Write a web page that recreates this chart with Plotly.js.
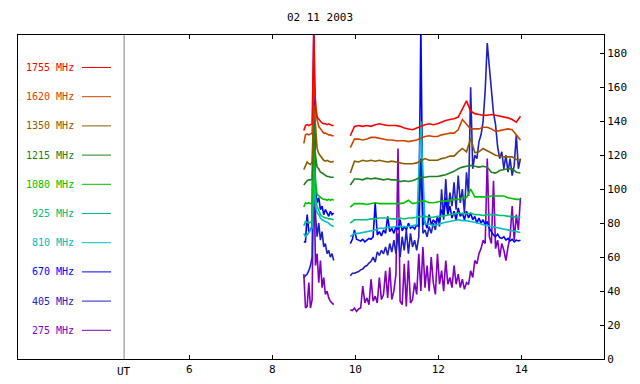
<!DOCTYPE html>
<html><head><meta charset="utf-8">
<script src="https://cdn.plot.ly/plotly-3.0.1.min.js"></script>
<style>html,body{margin:0;padding:0;background:#fff}#chart{width:640px;height:384px}</style>
</head><body><div id="chart"></div>
<script>
// ---- time grids (UT hours) ----
const t1 = [8.76, 8.80, 8.84, 8.88, 8.92, 8.96, 9.00, 9.04, 9.08, 9.12, 9.16, 9.20, 9.24, 9.28, 9.32, 9.36, 9.40, 9.44, 9.48];
const t2c = [9.88, 9.98, 10.08, 10.18, 10.28, 10.38, 10.48, 10.58, 10.68, 10.78, 10.88, 10.98, 11.08, 11.18, 11.28, 11.38, 11.48, 11.58, 11.68, 11.78, 11.88, 11.98, 12.08, 12.18, 12.28, 12.38, 12.48, 12.58, 12.68, 12.78, 12.88, 12.98, 13.08, 13.18, 13.28, 13.38, 13.48, 13.58, 13.68, 13.78, 13.88, 13.98];
const t2f = [9.88, 9.93, 9.98, 10.03, 10.08, 10.13, 10.18, 10.23, 10.28, 10.33, 10.38, 10.43, 10.48, 10.53, 10.58, 10.63, 10.68, 10.73, 10.78, 10.83, 10.88, 10.93, 10.98, 11.03, 11.08, 11.13, 11.18, 11.23, 11.28, 11.33, 11.38, 11.43, 11.48, 11.53, 11.58, 11.63, 11.68, 11.73, 11.78, 11.83, 11.88, 11.93, 11.98, 12.03, 12.08, 12.13, 12.18, 12.23, 12.28, 12.33, 12.38, 12.43, 12.48, 12.53, 12.58, 12.63, 12.68, 12.73, 12.78, 12.83, 12.88, 12.93, 12.98, 13.03, 13.08, 13.13, 13.18, 13.23, 13.28, 13.33, 13.38, 13.43, 13.48, 13.53, 13.58, 13.63, 13.68, 13.73, 13.78, 13.83, 13.88, 13.93, 13.98];

// ---- series (flux units) ----
const f1755a = [134.5, 137.5, 138, 137.5, 138, 138.5, 195, 147, 142.5, 141, 140, 139, 138.5, 138.5, 138, 138.5, 138, 137.5, 137.5];
const f1755b = [131.5, 137, 137.5, 137, 137.5, 137, 138, 138.5, 138, 137.5, 137.5, 137.5, 137, 136, 135.5, 135, 136, 137, 138, 138.5, 138, 138.5, 139.5, 140.5, 141, 141.5, 142.5, 147, 152, 146, 144.5, 144, 143.5, 143.5, 144, 143.5, 143, 142.5, 142, 141, 139.5, 143];
const f1620a = [127, 132, 132.5, 132, 132.5, 133, 164, 150, 141, 137, 135.5, 134, 133, 133, 132.5, 132, 132, 131.5, 131.5];
const f1620b = [124.5, 129.5, 129.5, 129, 129.5, 130.5, 130.5, 130, 129.5, 129, 129, 128.5, 128.5, 128.5, 128, 128.5, 129, 130, 131, 131.5, 131, 131, 132, 132.5, 133, 133, 135, 141, 138, 135.5, 135.5, 135.5, 136.5, 136.5, 135.5, 134, 134.5, 135, 135.5, 135, 132, 129];
const f1350a = [111.5, 114, 116, 115, 114.5, 116, 150, 138, 124, 121, 119.5, 118, 117, 116.5, 117, 116.5, 116, 116, 116.5];
const f1350b = [109.5, 116.5, 116, 117, 116.5, 117, 116.5, 117, 116.5, 116, 116.5, 116, 115.5, 115, 115, 115, 115.5, 117, 118, 117, 117, 117, 118, 118.5, 119.5, 119.5, 122, 124, 122, 130, 121.5, 122, 124, 122.5, 121, 120, 119.5, 119, 119, 119, 117.5, 117];
const f1215a = [102.5, 104, 105, 105.5, 105.5, 106, 140, 120, 113, 112, 110, 109.5, 109, 108, 107.5, 107.5, 107, 107, 107];
const f1215b = [102.5, 106, 106, 105.5, 106.5, 106, 106.5, 106, 105.5, 106, 105.5, 105.5, 104.5, 105, 104.5, 105, 106, 107, 107, 107.5, 107.5, 107.5, 108, 108.5, 109.5, 110.5, 112, 113, 113.5, 114, 113.5, 113, 113.5, 113, 110, 109.5, 111, 111.5, 112, 112, 110, 109.5];
const f1080a = [89.5, 92, 91.5, 92, 91.5, 92, 138, 105, 97, 96, 95, 94.5, 94, 94, 93.5, 94, 93.5, 94, 93.5];
const f1080b = [89.5, 91.5, 91.5, 91.5, 91, 91.5, 92, 91.5, 91.5, 91.5, 91.5, 91.5, 91.5, 92, 93.5, 91.5, 92, 93, 93, 92, 92, 92.5, 93, 93, 93.5, 94, 94, 95, 95, 100, 95.5, 95.5, 95.5, 95.5, 96, 96, 96, 96, 95, 94.5, 94, 94];
const f925a = [78.5, 81, 80.5, 80, 80.5, 81, 115, 95, 90, 87, 85, 84, 83.5, 83, 83, 82.5, 82.5, 82, 82];
const f925b = [80, 82, 82, 82, 82, 82.5, 82.5, 83, 83, 83, 82.5, 82.5, 83, 82.5, 83, 83, 83.5, 84, 84, 83.5, 83.5, 84, 84, 84.5, 85, 85.5, 86, 85.5, 85.5, 86, 85, 85, 84.5, 85, 85, 85, 84.5, 84.5, 84, 84, 83.5, 83.5];
const f810a = [74, 72, 73, 75, 76, 77, 105, 90, 86, 85, 83, 82, 81.5, 81, 80.5, 80, 79, 78.5, 78];
const f810b = [72, 74, 74, 74.5, 75, 75.5, 76, 77, 77, 77.5, 77.5, 78, 78, 78, 78, 78.5, 79, 140, 79.5, 79.5, 78.5, 79, 80, 80.5, 81, 81.5, 82, 81.5, 81.5, 81, 80.5, 80, 79, 78.5, 78, 77.5, 77, 76.5, 76, 75.5, 75, 74.5];
const f670a = [69, 69, 85, 75, 76, 78, 195, 100, 92, 95, 88, 90, 85, 88, 86, 84, 87, 85, 86];
const f670b = [68, 70.5, 76, 70.5, 70, 69.5, 70.5, 69, 70, 71,
  70.5, 72, 92, 73, 75, 72.5, 76, 74, 84, 75,
  77, 74, 78, 76, 82, 75.5, 78, 76, 80, 77,
  78, 76.5, 79, 78, 195, 79, 81, 77, 85, 79,
  82, 80, 83, 81, 88, 84, 95, 85, 90, 83,
  87, 82, 89, 84, 86, 82, 87, 83, 86, 82,
  84, 80, 83, 80, 82, 79, 81, 77, 75, 73,
  72, 73.5, 71.5, 71, 72, 70, 71, 69.5, 70.5, 69,
  70, 69.5, 70];
const f405a = [48, 49, 50, 52, 55, 60, 150, 85, 72, 80, 70, 75, 66, 68, 62, 64, 60, 62, 58];
const f405b = [49, 50.5, 50.5, 51, 51.5, 52.5, 53, 54.5, 55, 56.5,
  57.5, 60, 57, 63, 61, 64, 62, 66, 61, 68,
  63, 70, 62, 74, 60, 72, 64, 76, 62, 74,
  66, 70, 64, 72, 118, 74, 76, 72, 78, 74,
  80, 76, 84, 78, 100, 82, 106, 86, 98, 90,
  104, 88, 108, 92, 100, 86, 110, 96, 160, 112,
  120, 118, 128, 132, 140, 158, 186, 172, 160, 145,
  138, 125, 118, 122, 112, 120, 110, 118, 108, 114,
  132, 112, 118];
const f275a = [50, 30, 31, 45, 30, 35, 120, 55, 62, 45, 58, 42, 48, 38, 40, 36, 34, 33, 32];
const f275b = [29, 28.5, 30, 28, 29.5, 30, 43, 33, 36, 32,
  47, 34, 37, 33, 48, 35, 38, 52, 36, 54,
  35, 40, 50, 124, 34, 32, 56, 31, 58, 33,
  35, 45, 38, 62, 40, 66, 42, 55, 40, 60,
  45, 38, 62, 44, 52, 40, 58, 44, 48, 42,
  55, 44, 50, 42, 47, 41, 45, 44, 52, 48,
  58, 56, 62, 65, 70, 68, 118, 72, 68, 105,
  65, 70, 60, 68, 64, 58, 66, 72, 90, 70,
  85, 76, 95];

const labels = ['1755 MHz', '1620 MHz', '1350 MHz', '1215 MHz', '1080 MHz', '925 MHz', '810 MHz', '670 MHz', '405 MHz', '275 MHz'];
const colors = ['#ff0000', '#cc4400', '#8a5c00', '#208020', '#00c000', '#00c078', '#00c0c0', '#0000ff', '#2020c0', '#8000c0'];
const segA = [f1755a, f1620a, f1350a, f1215a, f1080a, f925a, f810a, f670a, f405a, f275a];
const segB = [f1755b, f1620b, f1350b, f1215b, f1080b, f925b, f810b, f670b, f405b, f275b];
const gridB = [t2c, t2c, t2c, t2c, t2c, t2c, t2c, t2f, t2f, t2f];
const xTicks = [6, 8, 10, 12, 14];
const yTicks = [0, 20, 40, 60, 80, 100, 120, 140, 160, 180];

const FONT = 'DejaVu Sans Mono, Liberation Mono, monospace';
const M = {l: 18, r: 36, t: 35, b: 25};
const PW = 640 - M.l - M.r, PH = 384 - M.t - M.b;
const px2paperX = px => (px - M.l) / PW;
const py2paperY = py => (384 - M.b - py) / PH;

const traces = [];
for (let i = segA.length - 1; i >= 0; i--) {
  traces.push({
    x: t1.concat([null], gridB[i]),
    y: segA[i].concat([null], segB[i]),
    type: 'scatter', mode: 'lines', connectgaps: false,
    line: {color: colors[i], width: 1.6}, hoverinfo: 'skip', showlegend: false
  });
}

const annotations = [], shapes = [];
const rowY0 = 67.5, rowDY = 29.2;
labels.forEach((lab, i) => {
  const py = rowY0 + i * rowDY;
  annotations.push({text: lab, xref: 'paper', yref: 'paper', x: px2paperX(76), y: py2paperY(py),
    xanchor: 'right', yanchor: 'middle', showarrow: false, font: {family: FONT, size: 10, color: colors[i]}});
  shapes.push({type: 'line', xref: 'paper', yref: 'paper', x0: px2paperX(82), x1: px2paperX(111),
    y0: py2paperY(py), y1: py2paperY(py), line: {color: colors[i], width: 1}});
});
shapes.push({type: 'line', xref: 'x', yref: 'paper', x0: 4.43, x1: 4.43, y0: 0, y1: 1, line: {color: '#808080', width: 1}});
annotations.push({text: 'UT', xref: 'x', yref: 'paper', x: 4.43, y: 0, yshift: -4, xanchor: 'center', yanchor: 'top',
  showarrow: false, font: {family: FONT, size: 11, color: '#000'}});

const layout = {
  width: 640, height: 384, margin: M, paper_bgcolor: '#fff', plot_bgcolor: '#fff',
  title: {text: '02 11 2003', x: 0.5, xanchor: 'center', y: 1 - 17 / 384, yanchor: 'middle', yref: 'container',
    font: {family: FONT, size: 11, color: '#000'}},
  xaxis: {range: [1.873, 15.993], tickvals: xTicks, ticktext: xTicks.map(String), ticks: 'inside', ticklen: 4,
    tickcolor: '#000', showline: true, linecolor: '#000', linewidth: 1, mirror: 'ticks', showgrid: false, zeroline: false,
    tickfont: {family: FONT, size: 11, color: '#000'}},
  yaxis: {range: [0, 190.8], side: 'right', tickvals: yTicks, ticks: 'inside', ticklen: 4, tickcolor: '#000',
    showline: true, linecolor: '#000', linewidth: 1, mirror: true, showgrid: false, zeroline: false,
    tickfont: {family: FONT, size: 11, color: '#000'}},
  shapes: shapes, annotations: annotations, showlegend: false
};
Plotly.newPlot('chart', traces, layout, {staticPlot: true, displayModeBar: false});
</script></body></html>
